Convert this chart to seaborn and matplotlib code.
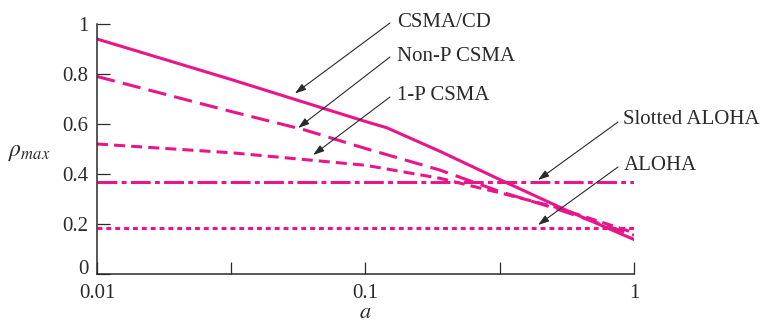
import matplotlib
matplotlib.use("Agg")
import matplotlib.pyplot as plt
import pandas as pd
import seaborn as sns

# Maximum throughput versus normalized propagation delay a
a_csmacd = [0.01, 0.0316, 0.1, 0.12, 0.19, 0.316, 0.56, 1.0]
rho_csmacd = [0.94, 0.778, 0.61, 0.585, 0.49, 0.378, 0.255, 0.138]

a_nonp = [0.01, 0.0316, 0.0595, 0.1, 0.189, 0.316, 0.5, 1.0]
rho_nonp = [0.79, 0.65, 0.576, 0.502, 0.416, 0.33, 0.265, 0.155]

a_onep = [0.01, 0.0316, 0.1, 0.189, 0.316, 0.5, 1.0]
rho_onep = [0.52, 0.485, 0.435, 0.383, 0.325, 0.27, 0.165]

a_flat = [0.01, 1.0]
rho_slotted = [0.368, 0.368]
rho_aloha = [0.184, 0.184]

protocols = ["CSMA/CD", "Non-P CSMA", "1-P CSMA", "Slotted ALOHA", "ALOHA"]
x_ticks = [0.01, 0.0316, 0.1, 0.316, 1.0]
x_ticklabels = ["0.01", "", "0.1", "", "1"]
y_ticks = [0, 0.2, 0.4, 0.6, 0.8, 1]
y_ticklabels = ["0", "0.2", "0.4", "0.6", "0.8", "1"]

frames = []
for name, xs, ys in [
    ("CSMA/CD", a_csmacd, rho_csmacd),
    ("Non-P CSMA", a_nonp, rho_nonp),
    ("1-P CSMA", a_onep, rho_onep),
    ("Slotted ALOHA", a_flat, rho_slotted),
    ("ALOHA", a_flat, rho_aloha),
]:
    frames.append(pd.DataFrame({"a": xs, "rho": ys, "protocol": name}))
df = pd.concat(frames, ignore_index=True)

sns.set_theme(style="ticks")
plt.rcParams["font.family"] = ["Liberation Serif", "DejaVu Serif"]
plt.rcParams["mathtext.fontset"] = "stix"

MAGENTA = "#E8158B"
INK = "#2a2a2a"

fig = plt.figure(figsize=(7.62, 3.23), dpi=100)
ax = fig.add_axes([0.1273, 0.1517, 0.7047, 0.774])

dash_styles = {
    "CSMA/CD": "",
    "Non-P CSMA": (6.0, 2.7),
    "1-P CSMA": (3.6, 2.0),
    "Slotted ALOHA": (6.5, 1.4, 1.6, 1.4),
    "ALOHA": (1.6, 1.3),
}
sns.lineplot(
    data=df, x="a", y="rho", hue="protocol", style="protocol",
    hue_order=protocols, style_order=protocols,
    palette={p: MAGENTA for p in protocols}, dashes=dash_styles,
    linewidth=2.2, legend=False, ax=ax, estimator=None, sort=False,
)

ax.set_xscale("log")
ax.set_xlim(0.01, 1.0)
ax.set_ylim(0, 1)
ax.set_xticks(x_ticks)
ax.set_xticklabels(x_ticklabels)
ax.minorticks_off()
ax.set_yticks(y_ticks)
ax.set_yticklabels(y_ticklabels)

for side in ["top", "right"]:
    ax.spines[side].set_visible(False)
for side in ["left", "bottom"]:
    ax.spines[side].set_color(INK)
    ax.spines[side].set_linewidth(1.1)

ax.tick_params(axis="both", direction="in", length=9, width=0.9,
               color=INK, labelsize=15, labelcolor=INK)
ax.tick_params(axis="y", pad=6)
ax.tick_params(axis="x", pad=7)

# sit the "0" label on the baseline so it clears the "0.01" below it
ax.get_yticklabels()[0].set_va("baseline")

ax.set_xlabel(r"$a$", fontsize=16, color=INK)
ax.xaxis.label.set_va("center")
ax.xaxis.set_label_coords(0.5, -0.158)
ax.set_ylabel(r"$\rho_{max}$", fontsize=17, color=INK, rotation=0,
              ha="center", va="center")
ax.yaxis.set_label_coords(-0.127, 0.484)

# Callouts: (label, text position, arrow tail, arrow tip)
callouts = [
    ("CSMA/CD", (0.131, 1.004), (0.1234, 1.004), (0.0546, 0.722)),
    ("Non-P CSMA", (0.131, 0.868), (0.1234, 0.868), (0.0561, 0.584)),
    ("1-P CSMA", (0.131, 0.712), (0.1234, 0.708), (0.0638, 0.476)),
    ("Slotted ALOHA", (0.91, 0.616), (0.872, 0.608), (0.439, 0.376)),
    ("ALOHA", (0.915, 0.436), (0.872, 0.428), (0.439, 0.196)),
]
for label, txt_pos, tail, tip in callouts:
    ax.text(txt_pos[0], txt_pos[1], label, fontsize=15, color=INK,
            ha="left", va="center", clip_on=False)
    ax.annotate("", xy=tip, xytext=tail, annotation_clip=False,
                arrowprops=dict(arrowstyle="-|>,head_length=0.55,head_width=0.18",
                                color=INK, lw=0.8, shrinkA=0, shrinkB=0))

fig.savefig("out.png", dpi=100)
